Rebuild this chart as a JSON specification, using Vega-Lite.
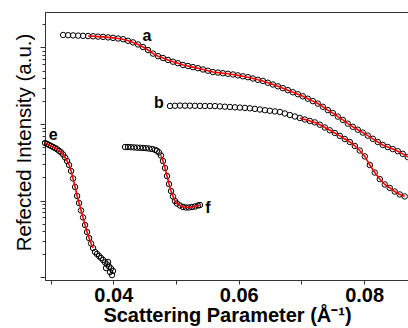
{
  "$schema": "https://vega.github.io/schema/vega-lite/v6.json",
  "width": 364,
  "height": 268,
  "autosize": "none",
  "padding": {"left": 45, "top": 12, "right": 0, "bottom": 48},
  "background": "white",
  "config": {"view": {"stroke": "#333", "strokeWidth": 1}, "font": "Liberation Sans"},
  "datasets": {
    "pts": [
      {"s":"a","x":0.03199,"y":1457},{"s":"a","x":0.03278,"y":1448},{"s":"a","x":0.03358,"y":1439},{"s":"a","x":0.03438,"y":1430},
      {"s":"a","x":0.03517,"y":1422},{"s":"a","x":0.03597,"y":1413},{"s":"a","x":0.03677,"y":1401},{"s":"a","x":0.03756,"y":1388},
      {"s":"a","x":0.03836,"y":1376},{"s":"a","x":0.03916,"y":1355},{"s":"a","x":0.03995,"y":1335},{"s":"a","x":0.04075,"y":1311},
      {"s":"a","x":0.04155,"y":1284},{"s":"a","x":0.04234,"y":1223},{"s":"a","x":0.04314,"y":1166},{"s":"a","x":0.04394,"y":1095},
      {"s":"a","x":0.04473,"y":1015},{"s":"a","x":0.04553,"y":928},{"s":"a","x":0.04633,"y":832},{"s":"a","x":0.04713,"y":770},
      {"s":"a","x":0.04792,"y":729},{"s":"a","x":0.04872,"y":687},{"s":"a","x":0.04952,"y":652},{"s":"a","x":0.05031,"y":622},
      {"s":"a","x":0.05111,"y":591},{"s":"a","x":0.05191,"y":573},{"s":"a","x":0.05270,"y":554},{"s":"a","x":0.05350,"y":536},
      {"s":"a","x":0.05430,"y":516},{"s":"a","x":0.05509,"y":497},{"s":"a","x":0.05589,"y":478},{"s":"a","x":0.05669,"y":470},
      {"s":"a","x":0.05748,"y":461},{"s":"a","x":0.05828,"y":453},{"s":"a","x":0.05908,"y":444},{"s":"a","x":0.05987,"y":432},
      {"s":"a","x":0.06067,"y":420},{"s":"a","x":0.06147,"y":409},{"s":"a","x":0.06226,"y":393},{"s":"a","x":0.06306,"y":378},
      {"s":"a","x":0.06386,"y":365},{"s":"a","x":0.06465,"y":346},{"s":"a","x":0.06545,"y":328},{"s":"a","x":0.06625,"y":311},
      {"s":"a","x":0.06704,"y":294},{"s":"a","x":0.06784,"y":277},{"s":"a","x":0.06864,"y":260},{"s":"a","x":0.06944,"y":245},
      {"s":"a","x":0.07023,"y":230},{"s":"a","x":0.07103,"y":214},{"s":"a","x":0.07183,"y":199},{"s":"a","x":0.07262,"y":185},
      {"s":"a","x":0.07342,"y":168},{"s":"a","x":0.07422,"y":152},{"s":"a","x":0.07501,"y":139},{"s":"a","x":0.07581,"y":125},
      {"s":"a","x":0.07661,"y":113},{"s":"a","x":0.07740,"y":101},{"s":"a","x":0.07820,"y":91.9},{"s":"a","x":0.07900,"y":84.2},
      {"s":"a","x":0.07979,"y":77.2},{"s":"a","x":0.08059,"y":70.5},{"s":"a","x":0.08139,"y":64.0},{"s":"a","x":0.08218,"y":58.2},
      {"s":"a","x":0.08298,"y":53.2},{"s":"a","x":0.08378,"y":50.0},{"s":"a","x":0.08457,"y":47.0},{"s":"a","x":0.08537,"y":44.1},
      {"s":"a","x":0.08617,"y":40.7},{"s":"a","x":0.08696,"y":37.0},
      {"s":"b","x":0.04904,"y":171.9},{"s":"b","x":0.04983,"y":173.0},{"s":"b","x":0.05063,"y":174.0},{"s":"b","x":0.05143,"y":173.5},
      {"s":"b","x":0.05222,"y":173.5},{"s":"b","x":0.05302,"y":173.0},{"s":"b","x":0.05382,"y":172.4},{"s":"b","x":0.05461,"y":171.9},
      {"s":"b","x":0.05541,"y":171.9},{"s":"b","x":0.05621,"y":171.4},{"s":"b","x":0.05700,"y":169.9},{"s":"b","x":0.05780,"y":168.3},
      {"s":"b","x":0.05860,"y":166.8},{"s":"b","x":0.05939,"y":165.3},{"s":"b","x":0.06019,"y":163.8},{"s":"b","x":0.06099,"y":162.4},
      {"s":"b","x":0.06178,"y":160.4},{"s":"b","x":0.06258,"y":157.6},{"s":"b","x":0.06338,"y":154.7},{"s":"b","x":0.06418,"y":151.5},
      {"s":"b","x":0.06497,"y":148.8},{"s":"b","x":0.06577,"y":146.1},{"s":"b","x":0.06657,"y":143.5},{"s":"b","x":0.06736,"y":137.2},
      {"s":"b","x":0.06816,"y":131.1},{"s":"b","x":0.06896,"y":125.3},{"s":"b","x":0.06975,"y":119.8},{"s":"b","x":0.07055,"y":114.5},
      {"s":"b","x":0.07135,"y":109.4},{"s":"b","x":0.07214,"y":104.9},{"s":"b","x":0.07294,"y":97.9},{"s":"b","x":0.07374,"y":90.0},
      {"s":"b","x":0.07453,"y":82.7},{"s":"b","x":0.07533,"y":76.3},{"s":"b","x":0.07613,"y":69.9},{"s":"b","x":0.07692,"y":63.7},
      {"s":"b","x":0.07772,"y":58.2},{"s":"b","x":0.07852,"y":51.6},{"s":"b","x":0.07931,"y":45.0},{"s":"b","x":0.08011,"y":37.7},
      {"s":"b","x":0.08091,"y":29.1},{"s":"b","x":0.08170,"y":23.2},{"s":"b","x":0.08250,"y":19.05},{"s":"b","x":0.08330,"y":16.2},
      {"s":"b","x":0.08409,"y":14.6},{"s":"b","x":0.08489,"y":13.1},{"s":"b","x":0.08569,"y":12.0},{"s":"b","x":0.08648,"y":11.3},
      {"s":"e","x":0.02912,"y":56.4},{"s":"e","x":0.02943,"y":54.8},{"s":"e","x":0.02975,"y":53.2},{"s":"e","x":0.03007,"y":51.6},
      {"s":"e","x":0.03039,"y":50.0},{"s":"e","x":0.03071,"y":48.6},{"s":"e","x":0.03103,"y":46.7},{"s":"e","x":0.03135,"y":44.6},
      {"s":"e","x":0.03167,"y":42.5},{"s":"e","x":0.03198,"y":39.9},{"s":"e","x":0.03230,"y":36.5},{"s":"e","x":0.03262,"y":32.8},
      {"s":"e","x":0.03294,"y":29.1},{"s":"e","x":0.03326,"y":24.3},{"s":"e","x":0.03358,"y":19.4},{"s":"e","x":0.03390,"y":15.0},
      {"s":"e","x":0.03422,"y":11.45},{"s":"e","x":0.03453,"y":9.28},{"s":"e","x":0.03485,"y":7.40},{"s":"e","x":0.03517,"y":6.00},
      {"s":"e","x":0.03549,"y":4.78},{"s":"e","x":0.03581,"y":3.87},{"s":"e","x":0.03613,"y":3.23},{"s":"e","x":0.03645,"y":2.74},
      {"s":"e","x":0.03677,"y":2.39},{"s":"e","x":0.03708,"y":2.12},{"s":"e","x":0.03740,"y":2.00},{"s":"e","x":0.03772,"y":1.88},
      {"s":"e","x":0.03804,"y":1.77},{"s":"e","x":0.03836,"y":1.67},{"s":"e","x":0.03868,"y":1.55},{"s":"e","x":0.03900,"y":1.46},
      {"s":"e","x":0.03932,"y":1.37},{"s":"e","x":0.03963,"y":1.29},{"s":"e","x":0.03995,"y":1.20},{"s":"e","x":0.03884,"y":1.31},
      {"s":"e","x":0.03916,"y":1.57},{"s":"e","x":0.03947,"y":1.16},{"s":"e","x":0.03979,"y":1.06},
      {"s":"f","x":0.04187,"y":50.0},{"s":"f","x":0.04234,"y":50.0},{"s":"f","x":0.04282,"y":49.7},{"s":"f","x":0.04330,"y":49.4},
      {"s":"f","x":0.04378,"y":49.1},{"s":"f","x":0.04426,"y":48.9},{"s":"f","x":0.04473,"y":48.6},{"s":"f","x":0.04521,"y":48.3},
      {"s":"f","x":0.04569,"y":47.8},{"s":"f","x":0.04617,"y":47.1},{"s":"f","x":0.04665,"y":46.0},{"s":"f","x":0.04696,"y":44.6},
      {"s":"f","x":0.04728,"y":42.4},{"s":"f","x":0.04760,"y":38.7},{"s":"f","x":0.04792,"y":32.8},{"s":"f","x":0.04824,"y":26.6},
      {"s":"f","x":0.04856,"y":20.9},{"s":"f","x":0.04888,"y":16.4},{"s":"f","x":0.04920,"y":13.3},{"s":"f","x":0.04951,"y":11.3},
      {"s":"f","x":0.04983,"y":9.85},{"s":"f","x":0.05015,"y":9.14},{"s":"f","x":0.05063,"y":8.60},{"s":"f","x":0.05111,"y":8.23},
      {"s":"f","x":0.05159,"y":8.10},{"s":"f","x":0.05206,"y":8.10},{"s":"f","x":0.05254,"y":8.23},{"s":"f","x":0.05302,"y":8.35},
      {"s":"f","x":0.05350,"y":8.60},{"s":"f","x":0.05382,"y":8.73}
    ],
    "labs": [
      {"t":"a","x":0.04537,"y":1413},
      {"t":"b","x":0.04728,"y":188},
      {"t":"e","x":0.03039,"y":71.8},
      {"t":"f","x":0.05509,"y":7.98}
    ]
  },
  "layer": [
    {
      "data": {"name": "pts"},
      "mark": {"type": "point", "filled": false, "stroke": "black", "strokeWidth": 1, "size": 30, "opacity": 1},
      "encoding": {
        "x": {"field": "x", "type": "quantitative",
          "scale": {"type": "linear", "domain": [0.0291, 0.08716], "nice": false, "zero": false},
          "axis": {"title": "Scattering Parameter (Å⁻¹)", "values": [0.03, 0.04, 0.05, 0.06, 0.07, 0.08],
            "labelExpr": "round(datum.value*100)%2==0 ? format(datum.value,'.2f') : ''",
            "labelFlush": false, "labelOverlap": false, "grid": false, "tickSize": 4,
            "domainColor": "#333", "tickColor": "#333", "labelColor": "black", "titleColor": "black",
            "labelFont": "Liberation Sans", "labelFontSize": 20, "labelFontWeight": "bold", "labelPadding": 1,
            "titleFont": "Liberation Sans", "titleFontSize": 20, "titleFontWeight": "bold", "titlePadding": 0}},
        "y": {"field": "y", "type": "quantitative",
          "scale": {"type": "log", "domain": [0.9137, 2911], "nice": false},
          "axis": {"title": "Refected Intensity (a.u.)", "labels": false, "grid": false,
            "values": [1,2,3,4,5,6,7,8,9,10,20,30,40,50,60,70,80,90,100,200,300,400,500,600,700,800,900,1000,2000],
            "tickSize": {"condition": {"test": "indexof([1,10,100,1000], datum.value) >= 0", "value": 5}, "value": 3},
            "domainColor": "#333", "tickColor": "#333", "titleColor": "black",
            "titleFont": "Liberation Sans", "titleFontSize": 20.5, "titleFontWeight": "normal", "titlePadding": 5, "titleY": 130}}
      }
    },
    {
      "data": {"name": "pts"},
      "transform": [{"filter": "(datum.s=='a' && datum.x>=0.0359) || (datum.s=='b' && datum.x>=0.0693) || (datum.s=='e' && datum.x<=0.0368) || (datum.s=='f' && datum.x>=0.0475)"}],
      "mark": {"type": "line", "color": "#ff0000", "strokeWidth": 1.6},
      "encoding": {
        "x": {"field": "x", "type": "quantitative", "scale": {"type": "linear", "domain": [0.0291, 0.08716], "nice": false, "zero": false}},
        "y": {"field": "y", "type": "quantitative", "scale": {"type": "log", "domain": [0.9137, 2911], "nice": false}},
        "detail": {"field": "s"}
      }
    },
    {
      "data": {"name": "labs"},
      "mark": {"type": "text", "font": "Liberation Sans", "fontSize": 16, "fontWeight": "bold", "color": "black", "align": "center", "baseline": "middle"},
      "encoding": {
        "x": {"field": "x", "type": "quantitative"},
        "y": {"field": "y", "type": "quantitative"},
        "text": {"field": "t"}
      }
    }
  ]
}
